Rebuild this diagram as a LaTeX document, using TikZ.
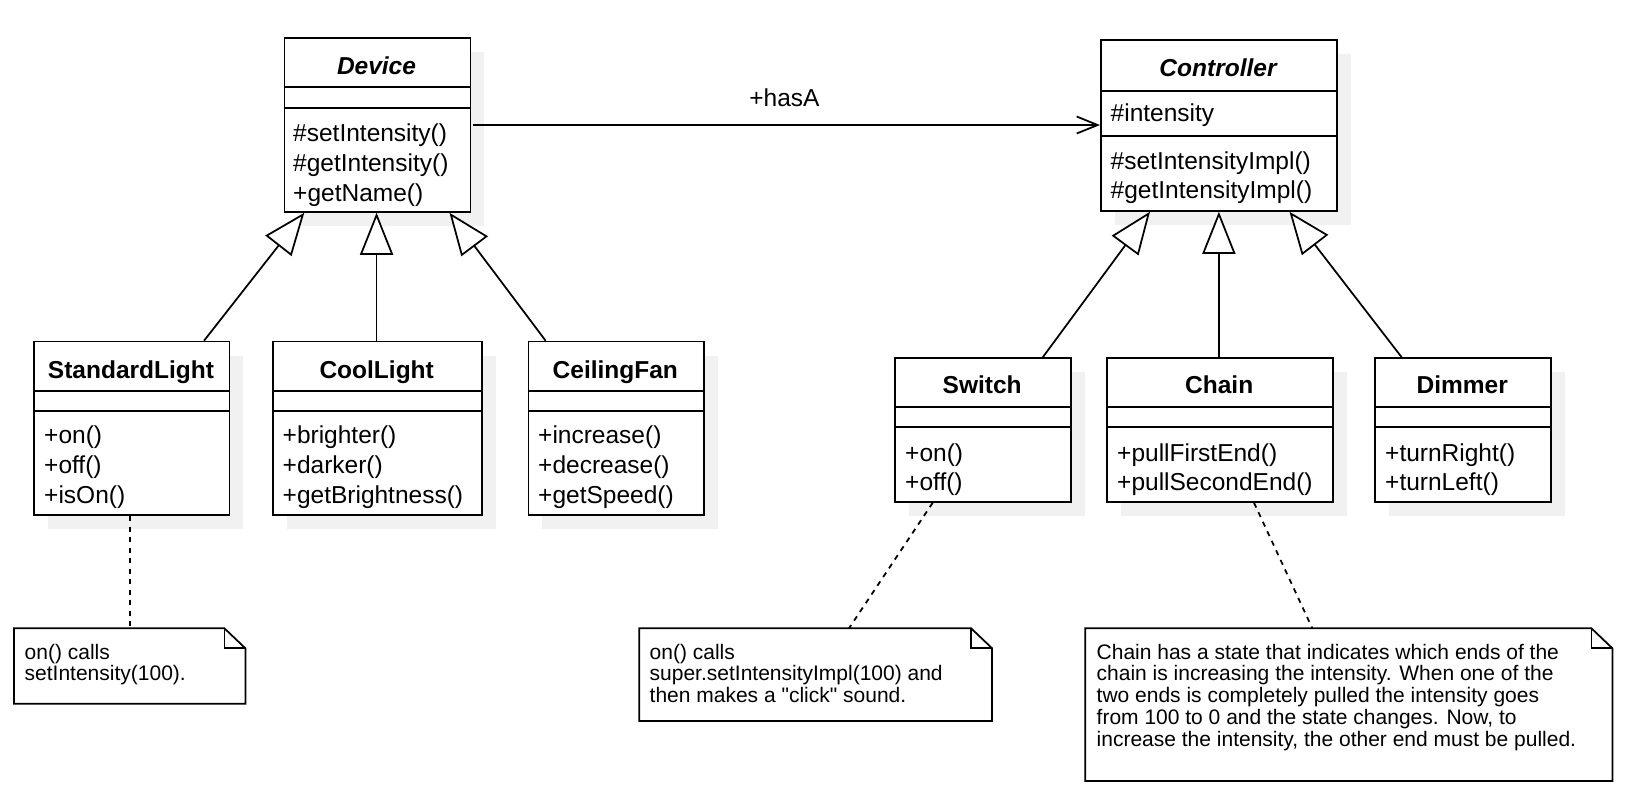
\documentclass[tikz,border=0pt]{standalone}
\usepackage{fontspec}
\setmainfont{Liberation Sans}
\newfontfamily\nomapsans{Liberation Sans}[Ligatures=ResetAll]
\usetikzlibrary{arrows.meta,shadows}
\definecolor{shadowgray}{RGB}{241,241,241}
\begin{document}
\begin{tikzpicture}[x=1pt,y=-1pt,
  lw/.style={line width=1.75pt},
  classbox/.style={draw, lw, fill=white, rectangle, inner sep=0pt, anchor=north west,
    general shadow={fill=shadowgray, draw=none, shadow xshift=14pt, shadow yshift=-14pt}},
  ctitle/.style={font=\fontsize{24.5}{25}\selectfont\bfseries, anchor=base, inner sep=0pt},
  atitle/.style={font=\fontsize{24.5}{25}\selectfont\bfseries\itshape, anchor=base, inner sep=0pt},
  rows/.style={font=\fontsize{24.5}{25}\selectfont, anchor=base west, inner sep=0pt},
  notearea/.style={rectangle, draw=none, inner sep=0pt, anchor=north west},
  notetext/.style={font=\fontsize{21}{21.8}\selectfont, anchor=base west, inner sep=0pt},
  inherit/.style={lw, -{Triangle[open, length=42pt, width=33pt, fill=white]}},
  assoc/.style={lw, -{Straight Barb[length=21pt, width=17pt]}},
  noteline/.style={lw, dash pattern=on 5.25pt off 5.25pt},
]
\useasboundingbox[fill=white] (0,0) rectangle (1626,811);

% ---------- Device ----------
\node[classbox, minimum width=186pt, minimum height=173.7pt] (dev) at (283.5,37.3) {};
\draw[lw] (dev.west |- 0,87.3) -- (dev.east |- 0,87.3);
\draw[lw] (dev.west |- 0,107.7) -- (dev.east |- 0,107.7);
\node[atitle] (devt) at (376.5,74.8) {Device};
\node[rows] (devm) at (293,141.5) {\parbox[t]{170pt}{\fontsize{24.5}{30}\selectfont
  \#setIntensity()\\\#getIntensity()\\+getName()}};

% ---------- Controller ----------
\node[classbox, minimum width=236pt, minimum height=170.7pt] (ctl) at (1100,39.3) {};
\draw[lw] (ctl.west |- 0,90.7) -- (ctl.east |- 0,90.7);
\draw[lw] (ctl.west |- 0,136) -- (ctl.east |- 0,136);
\node[atitle] (ctlt) at (1218,76.5) {Controller};
\node[rows] (ctla) at (1110.5,121.4) {\#intensity};
\node[rows] (ctlm) at (1110.5,169) {\parbox[t]{220pt}{\fontsize{24.5}{29}\selectfont
  \#setIntensityImpl()\\\#getIntensityImpl()}};

% ---------- StandardLight ----------
\node[classbox, minimum width=195.1pt, minimum height=173.6pt] (sl) at (33.4,340.7) {};
\draw[lw] (sl.west |- 0,391) -- (sl.east |- 0,391);
\draw[lw] (sl.west |- 0,410.7) -- (sl.east |- 0,410.7);
\node[ctitle] (slt) at (131,378.4) {StandardLight};
\node[rows] (slm) at (44,443.5) {\parbox[t]{180pt}{\fontsize{24.5}{30}\selectfont
  +on()\\+off()\\+isOn()}};

% ---------- CoolLight ----------
\node[classbox, minimum width=209pt, minimum height=173.6pt] (cl) at (272.2,340.7) {};
\draw[lw] (cl.west |- 0,391) -- (cl.east |- 0,391);
\draw[lw] (cl.west |- 0,410.7) -- (cl.east |- 0,410.7);
\node[ctitle] (clt) at (376.7,378.4) {CoolLight};
\node[rows] (clm) at (282.5,443.5) {\parbox[t]{200pt}{\fontsize{24.5}{30}\selectfont
  +brighter()\\+darker()\\+getBrightness()}};

% ---------- CeilingFan ----------
\node[classbox, minimum width=175.4pt, minimum height=173.6pt] (cf) at (527.6,340.7) {};
\draw[lw] (cf.west |- 0,391) -- (cf.east |- 0,391);
\draw[lw] (cf.west |- 0,410.7) -- (cf.east |- 0,410.7);
\node[ctitle] (cft) at (615.3,378.4) {CeilingFan};
\node[rows] (cfm) at (538,443.5) {\parbox[t]{170pt}{\fontsize{24.5}{30}\selectfont
  +increase()\\+decrease()\\+getSpeed()}};

% ---------- Switch ----------
\node[classbox, minimum width=175.7pt, minimum height=143.7pt] (sw) at (894.3,357.3) {};
\draw[lw] (sw.west |- 0,406.7) -- (sw.east |- 0,406.7);
\draw[lw] (sw.west |- 0,427.3) -- (sw.east |- 0,427.3);
\node[ctitle] (swt) at (982.2,393.5) {Switch};
\node[rows] (swm) at (905,461) {\parbox[t]{160pt}{\fontsize{24.5}{29}\selectfont
  +on()\\+off()}};

% ---------- Chain ----------
\node[classbox, minimum width=226.3pt, minimum height=143.7pt] (ch) at (1106,357.3) {};
\draw[lw] (ch.west |- 0,406.7) -- (ch.east |- 0,406.7);
\draw[lw] (ch.west |- 0,427.3) -- (ch.east |- 0,427.3);
\node[ctitle] (cht) at (1219.2,393.5) {Chain};
\node[rows] (chm) at (1117,461) {\parbox[t]{210pt}{\fontsize{24.5}{29}\selectfont
  +pullFirstEnd()\\+pullSecondEnd()}};

% ---------- Dimmer ----------
\node[classbox, minimum width=175.6pt, minimum height=143.7pt] (dm) at (1374.4,357.3) {};
\draw[lw] (dm.west |- 0,406.7) -- (dm.east |- 0,406.7);
\draw[lw] (dm.west |- 0,427.3) -- (dm.east |- 0,427.3);
\node[ctitle] (dmt) at (1462.2,393.5) {Dimmer};
\node[rows] (dmm) at (1385,461) {\parbox[t]{160pt}{\fontsize{24.5}{29}\selectfont
  +turnRight()\\+turnLeft()}};

% ---------- Notes ----------
\node[notearea, minimum width=231pt, minimum height=75pt] (n1) at (14,628.3) {};
\node[notearea, minimum width=352.4pt, minimum height=92.4pt] (n2) at (639.3,628.3) {};
\node[notearea, minimum width=526.8pt, minimum height=152.4pt] (n3) at (1085.2,628.3) {};
\foreach \n in {n1,n2,n3}{
  \draw[lw, fill=white] (\n.north west) -- ([xshift=-21pt]\n.north east)
    -- ([yshift=-20pt]\n.north east) -- (\n.south east) -- (\n.south west) -- cycle;
  \draw[lw] ([xshift=-21pt]\n.north east) -- ([xshift=-21pt,yshift=-20pt]\n.north east)
    -- ([yshift=-20pt]\n.north east);
}
\node[notetext] (n1t) at (24.5,659) {\parbox[t]{220pt}{\fontsize{21}{21.8}\selectfont
  on() calls\\setIntensity(100).}};
\node[notetext] (n2t) at (649.5,659) {\parbox[t]{340pt}{\fontsize{21}{21.8}\selectfont
  on() calls\\super.setIntensityImpl(100) and\\then makes a {\nomapsans "click"} sound.}};
\node[notetext] (n3t) at (1096.5,659) {\parbox[t]{510pt}{\fontsize{21}{21.8}\selectfont
  Chain has a state that indicates which ends of the\\
  chain is increasing the intensity. When one of the\\
  two ends is completely pulled the intensity goes\\
  from 100 to 0 and the state changes. Now, to\\
  increase the intensity, the other end must be pulled.}};

% ---------- Connectors ----------
\draw[inherit] ([xshift=-26.2pt]sl.north east) -- ([xshift=20.8pt]dev.south west);
\draw[inherit] ([xshift=-0.8pt]dev.south |- cl.north) -- ([xshift=-0.8pt]dev.south);
\draw[inherit] ([xshift=18pt]cf.north west) -- ([xshift=-21.8pt]dev.south east);

\draw[inherit] ([xshift=-29pt]sw.north east) -- ([xshift=50pt]ctl.south west);
\draw[inherit] (ctl.south |- ch.north) -- (ctl.south);
\draw[inherit] ([xshift=27.3pt]dm.north west) -- ([xshift=-48.3pt]ctl.south east);

\draw[assoc] ([xshift=2pt]dev.east) -- (dev.east -| ctl.west);
\node[rows, anchor=base] (hasa) at (784.5,106) {+hasA};

\draw[noteline] (n1.north |- sl.south) -- (n1.north);
\draw[noteline] ([xshift=38.4pt]sw.south west) -- ([xshift=209.7pt]n2.north west);
\draw[noteline] ([xshift=148pt]ch.south west) -- ([xshift=227.1pt]n3.north west);
\end{tikzpicture}
\end{document}
